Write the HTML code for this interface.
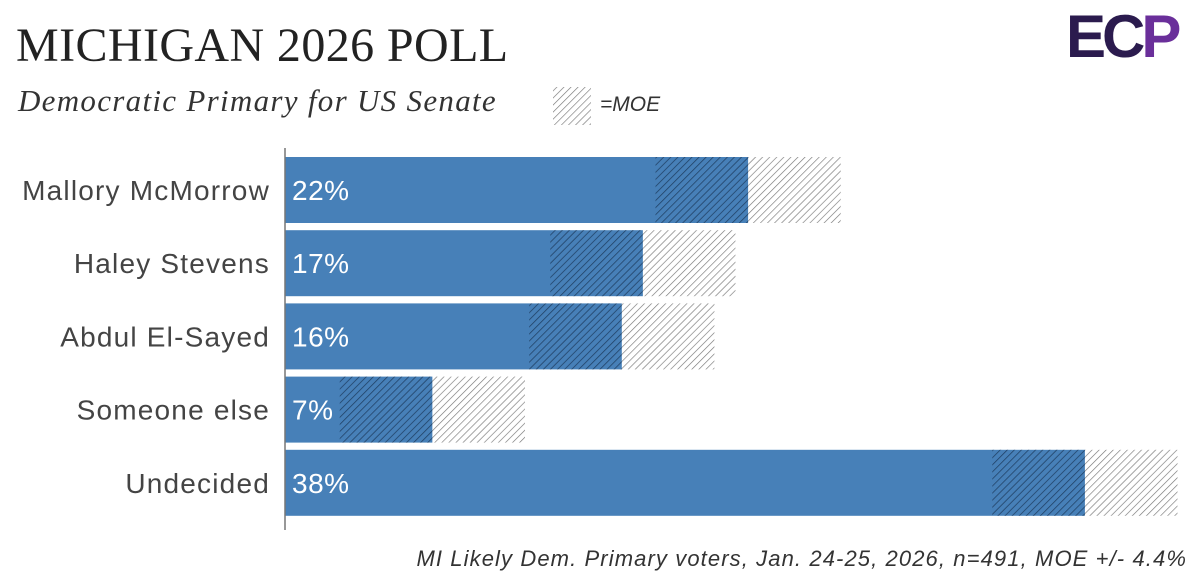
<!DOCTYPE html>
<html><head><meta charset="utf-8"><style>
body{margin:0;background:#fff;width:1200px;height:588px;overflow:hidden;position:relative;font-family:"Liberation Sans",sans-serif}
.t{position:absolute;white-space:nowrap}
</style></head><body>
<div class="t" style="left:16px;top:18px;font-family:'Liberation Serif',serif;font-size:48px;letter-spacing:0.4px;color:#222">MICHIGAN 2026 POLL</div>
<div class="t" style="left:18px;top:83px;font-family:'Liberation Serif',serif;font-style:italic;font-size:31px;letter-spacing:1.3px;color:#333">Democratic Primary for US Senate</div>
<div class="t" style="left:1066px;top:2px;font-family:'Liberation Sans',sans-serif;font-weight:bold;font-size:60px;letter-spacing:-4px;color:#2b1b4e">EC<span style="color:#6a2f9a">P</span></div>
<svg id="chart" width="1200" height="588" style="position:absolute;left:0;top:0">
<defs>
<pattern id="hl" patternUnits="userSpaceOnUse" width="5" height="5" patternTransform="rotate(45)"><line x1="0" y1="0" x2="0" y2="5" stroke="#777" stroke-width="1.3"/></pattern>
<pattern id="hd" patternUnits="userSpaceOnUse" width="5" height="5" patternTransform="rotate(45)"><line x1="0" y1="0" x2="0" y2="5" stroke="#1f3f63" stroke-width="1.5"/></pattern>
</defs>
<g id="legend">
<rect x="553" y="87" width="38" height="38" fill="url(#hl)"/>
<text x="600" y="111" font-size="21" font-style="italic" fill="#333" font-family="Liberation Sans">=MOE</text>
</g>
<g id="bars"></g>
<line x1="285" y1="148" x2="285" y2="530" stroke="#777" stroke-width="1.5"/>
<text x="1187" y="566" text-anchor="end" font-size="22" font-style="italic" letter-spacing="1.1" fill="#333" font-family="Liberation Sans">MI Likely Dem. Primary voters, Jan. 24-25, 2026, n=491, MOE +/- 4.4%</text>
</svg>
<script>
const categories=["Mallory McMorrow","Haley Stevens","Abdul El-Sayed","Someone else","Undecided"];
const values=[22,17,16,7,38];
const moe=4.4;
const ns="http://www.w3.org/2000/svg";
const x0=285,ppu=21.05,top0=157,step=73.2,bh=66;
const xs=v=>x0+v*ppu;
const g=document.getElementById('bars');
function mk(tag,attrs){const e=document.createElementNS(ns,tag);for(const k in attrs)e.setAttribute(k,attrs[k]);g.appendChild(e);return e;}
categories.forEach((c,i)=>{
  const y=top0+i*step,v=values[i];
  const b=mk('rect',{x:xs(0),y:y,width:xs(v)-xs(0),height:bh,fill:'#4780b8'});
  
  
  const d=mk('rect',{x:xs(v-moe),y:y,width:xs(v)-xs(v-moe),height:bh,fill:'url(#hd)'});
  
  
  const l=mk('rect',{x:xs(v),y:y,width:xs(v+moe)-xs(v),height:bh,fill:'url(#hl)'});
  
  
  const t=mk('text',{x:270,y:y+bh/2+10,'text-anchor':'end','font-size':28,'letter-spacing':1.2,fill:'#444','font-family':'Liberation Sans'});
  t.textContent=c;
  
  
  const p=mk('text',{x:292,y:y+bh/2+10,'font-size':28,'letter-spacing':0.5,fill:'#fff','font-family':'Liberation Sans'});
  p.textContent=v+'%';
  
  
});
</script>
</body></html>
